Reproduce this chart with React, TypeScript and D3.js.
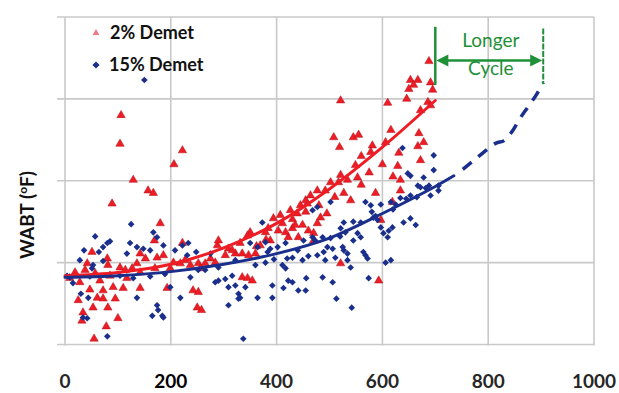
import React from "react";
import * as d3 from "d3";

// ---- data (x = cycles, y = relative WABT units) ----
const xTicks = [0, 200, 400, 600, 800, 1000];
const yGrid = [0, 10, 20, 30, 40];

const red2: [number, number][] = [
  [106,28.0],[104,24.5],[222,23.7],[206,22.0],[129,20.1],[157,18.8],[167,18.5],[89,17.2],
  [180,14.8],[169,12.7],[51,11.3],[80,10.5],[81,9.7],[142,11.1],[152,10.5],[136,9.9],
  [127,9.3],[174,10.6],[186,10.9],[205,10.0],[218,9.9],[227,10.3],[104,9.4],[42,9.9],
  [66,7.8],[91,7.0],[110,6.9],[142,6.9],[47,6.7],[193,6.9],[61,5.7],[72,5.6],[95,5.6],
  [81,4.5],[53,4.5],[34,3.9],[100,3.2],[78,2.2],[55,0.7],[72,6.6],[117,8.1],[19,8.8],
  [38,9.1],[57,8.7],[85,8.4],[114,9.1],[142,8.8],[170,9.3],[199,9.3],[28,7.6],[9,8.1],
  [25,5.4],[32,2.9],
  [394,15.4],[411,14.8],[384,14.2],[430,14.2],[449,14.6],[458,17.2],[439,16.0],[350,13.7],
  [379,13.7],[288,12.1],[309,11.7],[322,11.1],[335,11.1],[347,10.9],[360,11.1],[252,9.9],
  [237,9.7],[335,8.2],[345,8.1],[354,7.8],[242,6.6],[252,6.4],[250,4.5],[258,4.2],
  [403,13.9],[422,13.1],[441,13.1],[460,13.9],[290,12.7],[265,9.9],[222,12.4],[345,13.3],
  [331,12.4],[275,10.5],[303,10.9],[316,11.5],[369,12.1],[388,12.7],[417,13.7],[435,14.6],
  [284,10.0],[256,9.3],[445,17.0],[455,17.6],[426,16.4],[407,15.8],[464,18.2],
  [519,24.1],[581,24.3],[631,23.4],[667,24.2],[678,24.7],[502,19.8],[517,19.8],[534,20.1],
  [553,20.4],[527,18.5],[540,17.6],[587,18.5],[634,20.1],[634,18.8],[619,17.4],[629,21.8],
  [672,22.5],[477,18.8],[483,15.5],[477,14.8],[521,9.9],[597,15.2],[470,13.6],[470,12.7],
  [492,18.8],[521,20.7],[549,21.9],[578,23.5],[606,24.7],[593,7.8],
  [688,34.6],[653,32.3],[667,32.3],[659,31.7],[650,31.2],[691,32.0],[695,31.1],[521,29.8],
  [610,29.5],[646,30.0],[686,29.6],[616,26.2],[545,25.3],[555,25.6],[669,25.8],[508,25.3],
  [691,29.2],[672,28.6],
  [430,15.3],[455,16.2],[480,17.0],[495,16.0],[510,18.0],[560,19.5],[575,21.0],[600,22.0],
  [560,23.0],[620,20.5],[380,12.8],[362,12.0]
];

const blue15: [number, number][] = [
  [150,32.3],[125,14.7],[57,13.2],[85,12.6],[36,11.5],[72,11.9],[80,12.4],[64,11.3],
  [72,10.2],[28,10.3],[53,9.7],[51,9.3],[4,8.4],[9,8.2],[15,7.5],[30,6.2],[44,5.7],
  [34,3.3],[42,3.2],[80,1.0],[123,12.4],[136,11.9],[148,11.7],[161,11.5],[167,13.7],
  [174,13.1],[186,12.1],[136,5.7],[174,4.8],[176,4.2],[165,3.5],[184,3.5],[186,3.3],
  [199,7.0],[218,5.7],[208,11.5],[222,12.1],[117,11.1],[129,8.1],[47,8.3],[104,8.4],
  [161,8.3],[189,8.6],
  [373,14.9],[248,11.3],[275,11.1],[233,12.4],[231,10.9],[237,8.2],[252,9.1],[265,9.1],
  [284,7.6],[290,7.8],[303,8.0],[316,8.4],[309,7.0],[322,7.2],[328,6.2],[328,5.6],
  [341,7.0],[309,4.8],[364,5.7],[337,0.7],[350,12.4],[364,11.9],[379,12.5],[388,11.7],
  [383,11.3],[402,11.9],[360,9.7],[379,10.0],[392,7.2],[392,5.7],[411,9.7],[417,9.3],
  [422,7.8],[430,7.6],[413,6.9],[441,6.6],[455,6.6],[449,10.3],[456,8.1],[430,10.6],
  [451,12.7],[468,13.1],[417,12.4],[322,10.3],[290,9.4],[331,5.7],
  [638,24.0],[697,23.1],[697,21.3],[648,20.9],[653,20.6],[678,20.4],[667,19.4],[672,19.2],
  [688,19.4],[691,18.2],[706,18.8],[706,19.4],[634,17.9],[616,17.4],[597,17.1],[568,17.4],
  [583,15.5],[591,15.2],[597,14.3],[602,13.6],[610,13.1],[612,13.9],[619,14.3],[640,14.9],
  [653,15.4],[663,14.6],[527,14.9],[521,14.2],[553,13.6],[559,13.1],[545,12.7],[564,11.3],
  [568,10.9],[496,11.9],[489,11.3],[506,11.7],[525,11.9],[527,11.5],[534,11.1],[511,10.6],
  [492,10.3],[540,9.4],[606,10.0],[616,10.3],[487,13.1],[473,12.7],[468,16.4],[477,16.8],
  [502,17.4],[578,17.0],[487,8.2],[506,7.6],[513,5.6],[542,4.5],[574,8.1],[534,10.3],
  [477,10.9],[572,10.5],[502,13.0],[530,13.7],[559,14.9],[587,15.7],[625,17.1],[653,18.2],
  [682,19.1],
  [440,11.5],[460,10.8],[520,13.2],[545,15.0],[580,16.2],[620,16.5],[645,17.8],[665,18.0],
  [420,10.5],[395,10.4]
];

const redFit: [number, number][] = [
  [0,8.4],[100,8.8],[200,9.8],[300,11.8],[400,14.8],[500,19.0],[600,24.1],[700,29.8]
];
const blueFit: [number, number][] = [
  [0,8.2],[100,8.4],[200,8.9],[300,9.8],[400,11.1],[500,13.0],[600,16.0],[700,19.3],[735,20.6]
];
const blueExtrap: [number, number][] = [
  [752,21.4],[775,22.6],[800,23.9],[815,24.6],[830,24.9],[845,26.0],[860,27.6],[875,29.0],[890,30.4],[904,32.0]
];

const cycleStart = 700;
const cycleEnd = 904;
const legendLabels = ["2% Demet", "15% Demet"];
const annotationLines = ["Longer", "Cycle"];

const W = 619;
const H = 393;
const RED = "#ee1c24";
const BLUE = "#1a2f8c";
const GREEN = "#1f9038";
const GRID = "#c9c9c9";
const FONT = "Lato, 'Open Sans', sans-serif";

export default function App() {
  const x = d3.scaleLinear().domain([0, 1000]).range([65, 594]);
  const y = d3.scaleLinear().domain([0, 40]).range([344.5, 17]);

  const tri = d3.symbol(d3.symbolTriangle, 30)()!;
  const dia = d3.symbol(d3.symbolSquare, 22)()!;
  const fitLine = d3
    .line<[number, number]>()
    .x((d) => x(d[0]))
    .y((d) => y(d[1]))
    .curve(d3.curveCatmullRom.alpha(0.5));

  const arrowY = y(34.7);
  const xs = x(cycleStart);
  const xe = x(cycleEnd);

  return (
    <svg
      width={W}
      height={H}
      style={{ position: "absolute", left: 0, top: 0, background: "#fff" }}
      fontFamily={FONT}
    >
      {/* grid */}
      {yGrid.map((v) => (
        <line key={"h" + v} x1={57} x2={x(1000)} y1={y(v)} y2={y(v)} stroke={GRID} strokeWidth={1.6} />
      ))}
      {xTicks.map((v) => (
        <line key={"v" + v} x1={x(v)} x2={x(v)} y1={y(40)} y2={y(0) + 1} stroke={GRID} strokeWidth={1.6} />
      ))}

      {/* red points */}
      {red2.map((d, i) => (
        <path key={"r" + i} d={tri} transform={`translate(${x(d[0])},${y(d[1])})`} fill={RED} stroke="#b01018" strokeWidth={0.5} />
      ))}
      {/* blue points */}
      {blue15.map((d, i) => (
        <path key={"b" + i} d={dia} transform={`translate(${x(d[0])},${y(d[1])}) rotate(45)`} fill={BLUE} />
      ))}

      {/* fit lines */}
      <path d={fitLine(redFit)!} fill="none" stroke={RED} strokeWidth={3} strokeLinecap="round" />
      <path d={fitLine(blueFit)!} fill="none" stroke={BLUE} strokeWidth={3} strokeLinecap="round" />
      <path d={fitLine(blueExtrap)!} fill="none" stroke={BLUE} strokeWidth={3.5} strokeDasharray="11 9" />

      {/* longer cycle annotation */}
      <line x1={xs} x2={xs} y1={y(38.8)} y2={y(31.7)} stroke={GREEN} strokeWidth={2.5} />
      <line x1={xe} x2={xe} y1={y(38.6)} y2={y(31.8)} stroke={GREEN} strokeWidth={2} strokeDasharray="6 1.5" />
      <line x1={xs + 8} x2={xe - 8} y1={arrowY} y2={arrowY} stroke={GREEN} strokeWidth={2.5} />
      <path d={`M${xs + 1},${arrowY} L${xs + 13},${arrowY - 6} L${xs + 13},${arrowY + 6} Z`} fill={GREEN} />
      <path d={`M${xe - 1},${arrowY} L${xe - 13},${arrowY - 6} L${xe - 13},${arrowY + 6} Z`} fill={GREEN} />
      <text x={x(805)} y={47} textAnchor="middle" fontSize={19} fill={GREEN} fontFamily={FONT}>
        {annotationLines[0]}
      </text>
      <text x={x(805)} y={75} textAnchor="middle" fontSize={19} fill={GREEN} fontFamily={FONT}>
        {annotationLines[1]}
      </text>

      {/* legend */}
      <path d={d3.symbol(d3.symbolTriangle, 20)()!} transform="translate(96,33)" fill="#f07a80" />
      <text x={110} y={38.5} fontSize={18} fontWeight={700} fill="#111">{legendLabels[0]}</text>
      <path d={d3.symbol(d3.symbolSquare, 26)()!} transform="translate(96,65) rotate(45)" fill={BLUE} />
      <text x={109} y={71} fontSize={18} fontWeight={700} fill="#111">{legendLabels[1]}</text>

      {/* x tick labels */}
      {xTicks.map((v) => (
        <text key={"t" + v} x={x(v)} y={388} textAnchor="middle" fontSize={19} fontWeight={700} fill={v === 200 ? "#000" : "#262626"}>
          {v}
        </text>
      ))}

      {/* y label */}
      <text transform="translate(34,215) rotate(-90)" textAnchor="middle" fontSize={19} fontWeight={700} fill="#111">
        WABT (<tspan fontSize={12} dy={-7}>o</tspan><tspan dy={7}>F)</tspan>
      </text>
    </svg>
  );
}
